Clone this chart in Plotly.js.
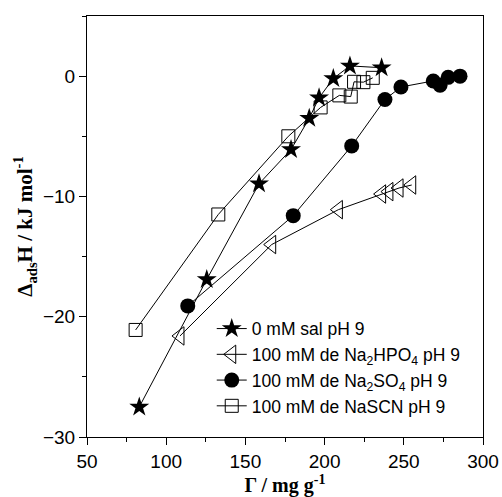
<!DOCTYPE html>
<html>
<head>
<meta charset="utf-8">
<script src="https://cdn.plot.ly/plotly-3.0.1.min.js"></script>
<style>html,body{margin:0;padding:0;background:#fff;}#chart{width:502px;height:497px;}</style>
</head>
<body>
<div id="chart"></div>
<script>
// Series: 0 mM sal pH 9 (stars)
const salX = [83, 125.6, 158.6, 178.8, 190.3, 196.5, 205.5, 216, 236];
const salY = [-27.5, -16.9, -8.95, -6.1, -3.5, -1.8, -0.2, 0.85, 0.7];
// Series: 100 mM de Na2HPO4 pH 9 (left triangles)
const hpoX = [108.7, 166.6, 208.7, 236, 240.6, 247, 255];
const hpoY = [-21.6, -14.0, -11.1, -9.8, -9.6, -9.3, -9.05];
// Series: 100 mM de Na2SO4 pH 9 (circles)
const soX = [113.6, 180.2, 217.1, 238.1, 248.2, 268.6, 272.9, 278, 285.5];
const soY = [-19.1, -11.6, -5.8, -1.94, -0.9, -0.4, -0.75, -0.1, 0];
// Series: 100 mM de NaSCN pH 9 (squares)
const scnX = [80.7, 132.9, 177.1, 197.5, 209.3, 216.5, 218.6, 224.5, 230.4];
const scnY = [-21.1, -11.5, -5.0, -2.6, -1.6, -1.7, -0.47, -0.5, -0.14];

const names = ["0 mM sal pH 9", "100 mM de Na<sub>2</sub>HPO<sub>4</sub> pH 9",
               "100 mM de Na<sub>2</sub>SO<sub>4</sub> pH 9", "100 mM de NaSCN pH 9"];

const lineStyle = {color: "#000", width: 1};
const traces = [
  {x: salX, y: salY, name: names[0], mode: "lines+markers", line: lineStyle,
   marker: {symbol: "star", size: 15, color: "#000", line: {width: 0}}},
  {x: hpoX, y: hpoY, name: names[1], mode: "lines+markers", line: lineStyle,
   marker: {symbol: "triangle-left-open", size: 16, color: "#000", line: {width: 1, color: "#000"}}},
  {x: soX, y: soY, name: names[2], mode: "lines+markers", line: lineStyle,
   marker: {symbol: "circle", size: 15, color: "#000", line: {width: 0}}},
  {x: scnX, y: scnY, name: names[3], mode: "lines+markers", line: lineStyle,
   marker: {symbol: "square-open", size: 13, color: "#000", line: {width: 1, color: "#000"}}}
];

const tickFont = {family: "Liberation Sans, Arial, sans-serif", size: 19, color: "#000"};
const xTitleFont = {family: "Liberation Serif, Times New Roman, serif", size: 20, color: "#000", weight: "bold"};
const yTitleFont = {family: "Liberation Serif, Times New Roman, serif", size: 21, color: "#000", weight: "bold"};

const layout = {
  width: 502, height: 497,
  margin: {l: 87, r: 19, t: 16, b: 60},
  paper_bgcolor: "#fff", plot_bgcolor: "#fff",
  showlegend: true,
  legend: {x: 0.315, y: 0.3, xanchor: "left", yanchor: "top",
           font: {family: "Liberation Sans, Arial, sans-serif", size: 17.5, color: "#000"},
           bgcolor: "rgba(0,0,0,0)", tracegroupgap: 0},
  xaxis: {range: [50, 300], dtick: 50, tick0: 50, ticks: "outside", ticklen: 7, tickwidth: 1,
          tickcolor: "#000", showline: true, linecolor: "#000", linewidth: 1, mirror: true,
          showgrid: false, zeroline: false, tickfont: tickFont,
          minor: {dtick: 25, ticks: "outside", ticklen: 4, tickcolor: "#000", showgrid: false},
          title: {text: "<b>Γ / mg g<sup>-1</sup></b>", font: xTitleFont, standoff: 2}},
  yaxis: {range: [-30, 5], dtick: 10, tick0: 0, ticks: "outside", ticklen: 7, tickwidth: 1,
          tickcolor: "#000", showline: true, linecolor: "#000", linewidth: 1, mirror: true,
          showgrid: false, zeroline: false, tickfont: tickFont,
          minor: {dtick: 5, ticks: "outside", ticklen: 4, tickcolor: "#000", showgrid: false},
          title: {text: "<b>Δ<sub>ads</sub>H / kJ mol<sup>-1</sup></b>", font: yTitleFont, standoff: 4}}
};

Plotly.newPlot("chart", traces, layout, {displayModeBar: false, staticPlot: true});
</script>
</body>
</html>
